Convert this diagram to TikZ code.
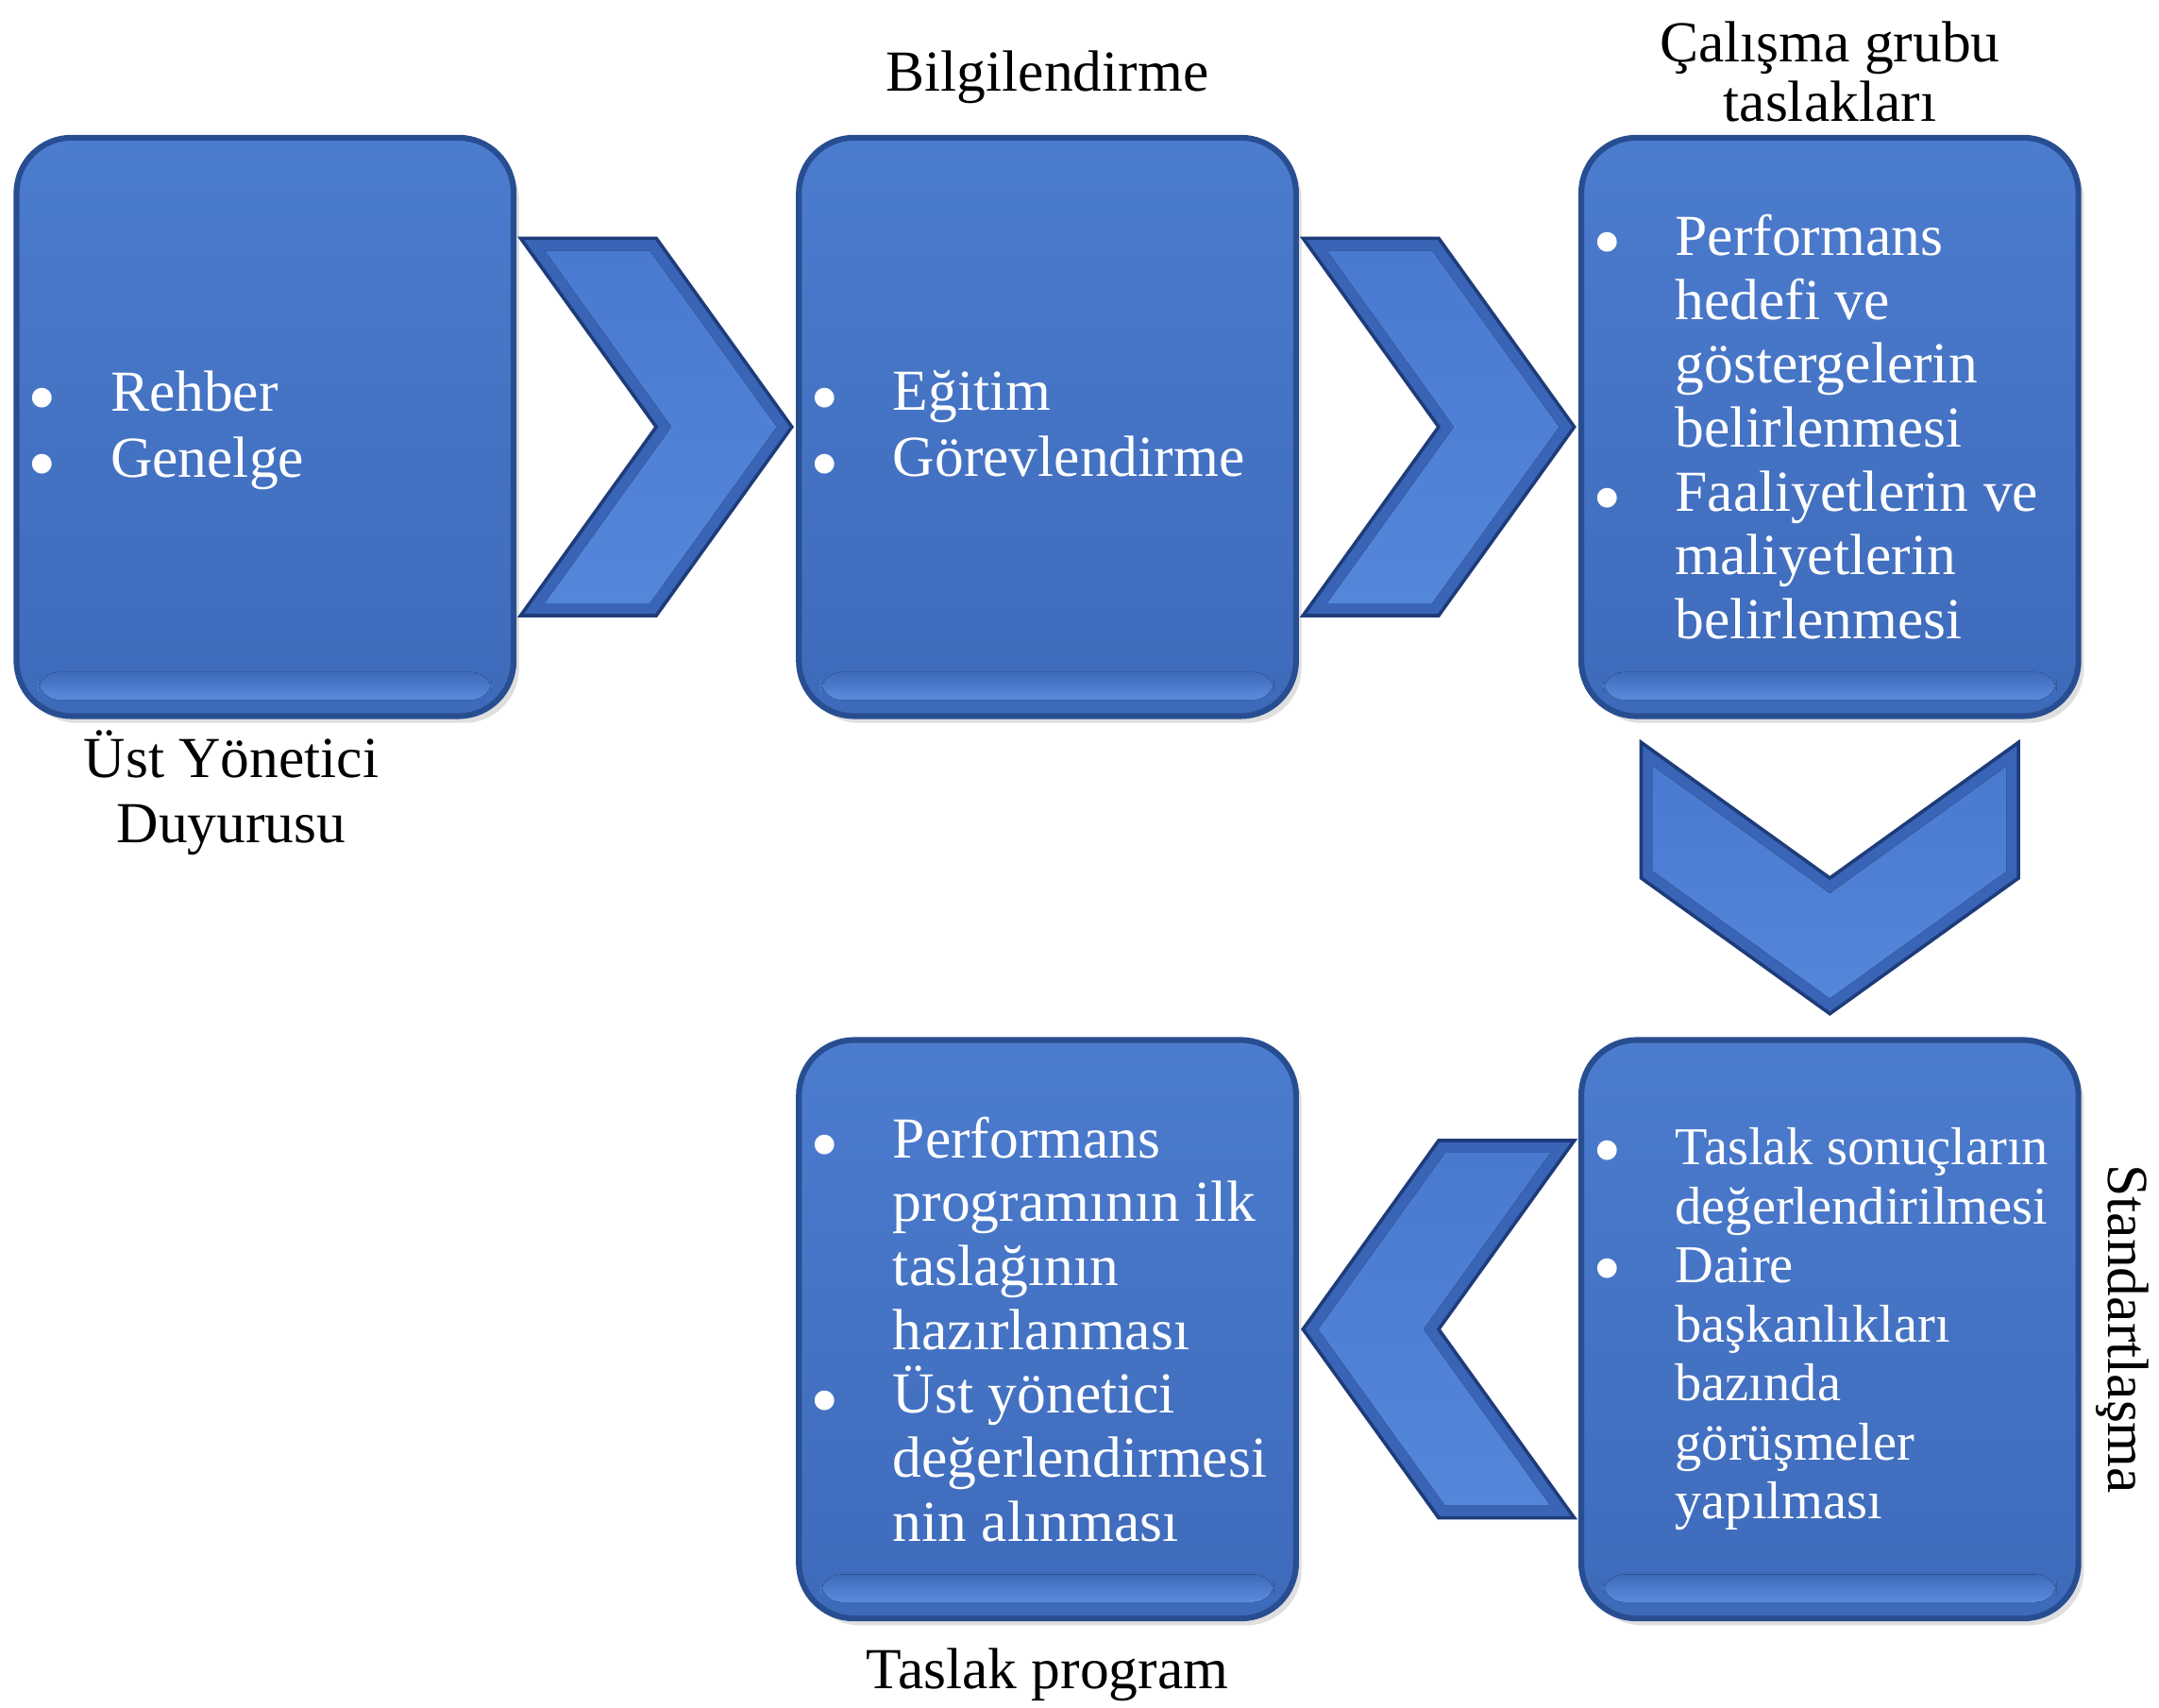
\documentclass[tikz,border=0pt]{standalone}
\usepackage{fontspec}
\setmainfont{Liberation Serif}
\usetikzlibrary{positioning,
				calc,
				shadows}
\definecolor{boxline}{RGB}{40,78,145}
\definecolor{boxtop}{RGB}{76,124,206}
\definecolor{boxbot}{RGB}{62,106,186}
\definecolor{boxhi}{RGB}{92,140,220}
\definecolor{chevline}{RGB}{30,60,122}
\definecolor{chevedge}{RGB}{58,100,182}
\definecolor{chevtop}{RGB}{74,122,208}
\definecolor{chevbot}{RGB}{84,134,218}
\tikzset{
  box/.style={rounded corners=0.4cm, draw=boxline, line width=1.2pt, top color=boxtop, bottom color=boxbot,
    minimum width=3.61cm, minimum height=4.20cm, drop shadow={opacity=0.25, shadow xshift=0.04cm, shadow yshift=-0.05cm}},
  bevel/.style={rounded corners=0.15cm, top color=boxbot, bottom color=boxhi},
  itemtxt/.style={text=white, align=left, anchor=west, font=\fontsize{12}{13.2}\selectfont},
  captxt/.style={align=center, font=\fontsize{12}{13.5}\selectfont},
  chevron/.pic={
    \filldraw[fill=chevedge, draw=chevline, line width=0.7pt] (-0.985,1.37) -- (0,1.37) -- (0.985,0) -- (0,-1.37) -- (-0.985,-1.37) -- (0,0) -- cycle;
    \fill[top color=chevtop, bottom color=chevbot] (-0.81,1.28) -- (-0.047,1.28) -- (0.874,0) -- (-0.047,-1.28) -- (-0.81,-1.28) -- (0.111,0) -- cycle;
  }
}
\newcommand\bul{\llap{\raisebox{-0.25em}{\fontsize{17}{17}\selectfont\textbullet}\hspace{0.39cm}}}
\begin{document}
\begin{tikzpicture}
  \useasboundingbox[fill=white] (0,0) rectangle (15.68,12.40);
  \node[box] (b1) at (1.925,9.30) {};
  \node[box, right=2.03cm of b1] (b2) {};
  \node[box, right=2.03cm of b2] (b3) {};
  \node[box, below=2.31cm of b3] (b4) {};
  \node[box, left=2.03cm of b4] (b5) {};
  \foreach \b in {b1,b2,b3,b4,b5}
    \fill[bevel] ([xshift=0.18cm,yshift=0.14cm]\b.south west) rectangle ([xshift=-0.18cm,yshift=0.34cm]\b.south east);
  \pic at ($(b1.east)!0.5!(b2.west)$) {chevron};
  \pic at ($(b2.east)!0.5!(b3.west)$) {chevron};
  \pic[rotate=-90] at ($(b3.south)!0.5!(b4.north)$) {chevron};
  \pic[rotate=180] at ($(b4.west)!0.5!(b5.east)$) {chevron};
  \node[itemtxt, font=\fontsize{12}{13.7}\selectfont] (t1) at ([xshift=0.58cm,yshift=-0.03cm]b1.west) {\bul Rehber\\\bul Genelge};
  \node[itemtxt, font=\fontsize{12}{13.7}\selectfont] (t2) at ([xshift=0.58cm,yshift=-0.03cm]b2.west) {\bul Eğitim\\\bul Görevlendirme};
  \node[itemtxt] (t3) at ([xshift=0.58cm]b3.west) {\bul Performans\\hedefi ve\\göstergelerin\\belirlenmesi\\\bul Faaliyetlerin ve\\maliyetlerin\\belirlenmesi};
  \node[itemtxt, font=\fontsize{11}{12.2}\selectfont] (t4) at ([xshift=0.58cm]b4.west) {\bul Taslak sonuçların\\değerlendirilmesi\\\bul Daire\\başkanlıkları\\bazında\\görüşmeler\\yapılması};
  \node[itemtxt] (t5) at ([xshift=0.58cm]b5.west) {\bul Performans\\programının ilk\\taslağının\\hazırlanması\\\bul Üst yönetici\\değerlendirmesi\\nin alınması};
  \node[captxt, below=-0.04cm of b1, xshift=-0.245cm] (c1) {Üst Yönetici\\Duyurusu};
  \node[captxt, above=0.10cm of b2] (c2) {Bilgilendirme};
  \node[captxt, above=-0.03cm of b3, font=\fontsize{12}{12.2}\selectfont] (c3) {Çalışma grubu\\taslakları};
  \node[captxt, rotate=-90] (c4) at ([xshift=0.30cm]b4.east) {Standartlaşma};
  \node[captxt, below=0.07cm of b5] (c5) {Taslak program};
\end{tikzpicture}
\end{document}
